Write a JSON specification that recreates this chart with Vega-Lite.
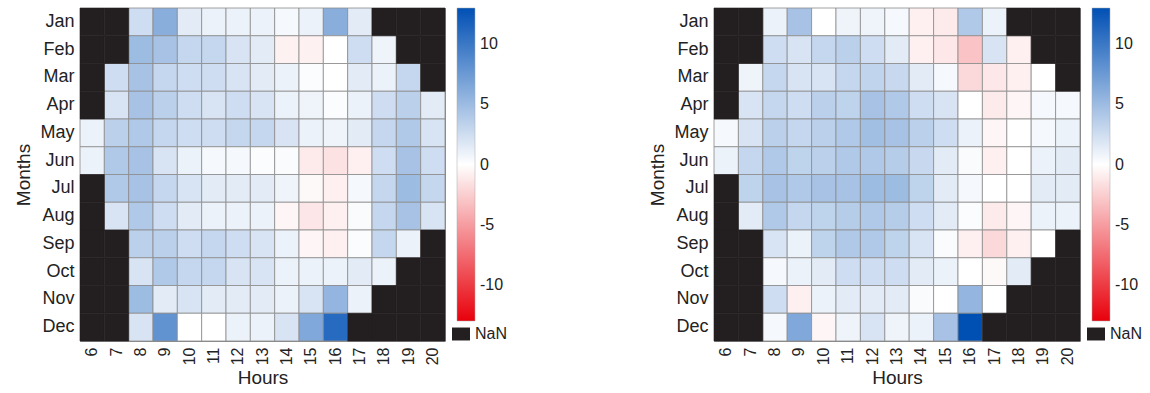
{
"$schema":"https://vega.github.io/schema/vega-lite/v6.json",
"padding":{"left":14,"top":7,"right":5,"bottom":5},
"background":"white",
"config":{
 "view":{"stroke":"#8c8c8c","strokeWidth":1},
 "font":"Liberation Sans",
 "axis":{"labelFont":"Liberation Sans","titleFont":"Liberation Sans","labelColor":"#222","titleColor":"#222","titleFontWeight":"normal","domain":false,"ticks":false,"grid":false},
 "legend":{"labelFont":"Liberation Sans","labelColor":"#222"}
},
"datasets":{
"left":[
{"month":"Jan","hour":6,"value":null},{"month":"Jan","hour":7,"value":null},{"month":"Jan","hour":8,"value":2.5},{"month":"Jan","hour":9,"value":6},{"month":"Jan","hour":10,"value":1.5},{"month":"Jan","hour":11,"value":1},{"month":"Jan","hour":12,"value":1},{"month":"Jan","hour":13,"value":1},{"month":"Jan","hour":14,"value":0.5},{"month":"Jan","hour":15,"value":1},{"month":"Jan","hour":16,"value":6},{"month":"Jan","hour":17,"value":1.5},{"month":"Jan","hour":18,"value":null},{"month":"Jan","hour":19,"value":null},{"month":"Jan","hour":20,"value":null},
{"month":"Feb","hour":6,"value":null},{"month":"Feb","hour":7,"value":null},{"month":"Feb","hour":8,"value":5},{"month":"Feb","hour":9,"value":4.5},{"month":"Feb","hour":10,"value":3},{"month":"Feb","hour":11,"value":3},{"month":"Feb","hour":12,"value":2},{"month":"Feb","hour":13,"value":1.5},{"month":"Feb","hour":14,"value":-0.7},{"month":"Feb","hour":15,"value":-0.7},{"month":"Feb","hour":16,"value":0},{"month":"Feb","hour":17,"value":2.5},{"month":"Feb","hour":18,"value":0.8},{"month":"Feb","hour":19,"value":null},{"month":"Feb","hour":20,"value":null},
{"month":"Mar","hour":6,"value":null},{"month":"Mar","hour":7,"value":2.5},{"month":"Mar","hour":8,"value":4.5},{"month":"Mar","hour":9,"value":3},{"month":"Mar","hour":10,"value":2.5},{"month":"Mar","hour":11,"value":2.5},{"month":"Mar","hour":12,"value":2},{"month":"Mar","hour":13,"value":1.5},{"month":"Mar","hour":14,"value":1},{"month":"Mar","hour":15,"value":0.2},{"month":"Mar","hour":16,"value":0},{"month":"Mar","hour":17,"value":1.5},{"month":"Mar","hour":18,"value":1},{"month":"Mar","hour":19,"value":3},{"month":"Mar","hour":20,"value":null},
{"month":"Apr","hour":6,"value":null},{"month":"Apr","hour":7,"value":2},{"month":"Apr","hour":8,"value":4.5},{"month":"Apr","hour":9,"value":3.5},{"month":"Apr","hour":10,"value":2.5},{"month":"Apr","hour":11,"value":2},{"month":"Apr","hour":12,"value":2.5},{"month":"Apr","hour":13,"value":2},{"month":"Apr","hour":14,"value":1},{"month":"Apr","hour":15,"value":0.8},{"month":"Apr","hour":16,"value":0.2},{"month":"Apr","hour":17,"value":1},{"month":"Apr","hour":18,"value":2.5},{"month":"Apr","hour":19,"value":3.5},{"month":"Apr","hour":20,"value":1.5},
{"month":"May","hour":6,"value":1},{"month":"May","hour":7,"value":3.5},{"month":"May","hour":8,"value":4},{"month":"May","hour":9,"value":3},{"month":"May","hour":10,"value":2.5},{"month":"May","hour":11,"value":2.5},{"month":"May","hour":12,"value":3},{"month":"May","hour":13,"value":3},{"month":"May","hour":14,"value":2},{"month":"May","hour":15,"value":1},{"month":"May","hour":16,"value":0.8},{"month":"May","hour":17,"value":1.5},{"month":"May","hour":18,"value":3},{"month":"May","hour":19,"value":4},{"month":"May","hour":20,"value":2},
{"month":"Jun","hour":6,"value":1},{"month":"Jun","hour":7,"value":4},{"month":"Jun","hour":8,"value":4.5},{"month":"Jun","hour":9,"value":2},{"month":"Jun","hour":10,"value":1},{"month":"Jun","hour":11,"value":0.5},{"month":"Jun","hour":12,"value":0.5},{"month":"Jun","hour":13,"value":0.2},{"month":"Jun","hour":14,"value":0.3},{"month":"Jun","hour":15,"value":-1},{"month":"Jun","hour":16,"value":-1.5},{"month":"Jun","hour":17,"value":-0.8},{"month":"Jun","hour":18,"value":2.5},{"month":"Jun","hour":19,"value":4.5},{"month":"Jun","hour":20,"value":2.5},
{"month":"Jul","hour":6,"value":null},{"month":"Jul","hour":7,"value":4},{"month":"Jul","hour":8,"value":4.5},{"month":"Jul","hour":9,"value":3},{"month":"Jul","hour":10,"value":2},{"month":"Jul","hour":11,"value":1.5},{"month":"Jul","hour":12,"value":1.5},{"month":"Jul","hour":13,"value":1.5},{"month":"Jul","hour":14,"value":0.8},{"month":"Jul","hour":15,"value":-0.3},{"month":"Jul","hour":16,"value":-0.8},{"month":"Jul","hour":17,"value":0.5},{"month":"Jul","hour":18,"value":3},{"month":"Jul","hour":19,"value":5},{"month":"Jul","hour":20,"value":3},
{"month":"Aug","hour":6,"value":null},{"month":"Aug","hour":7,"value":2},{"month":"Aug","hour":8,"value":4},{"month":"Aug","hour":9,"value":2.5},{"month":"Aug","hour":10,"value":1.5},{"month":"Aug","hour":11,"value":1},{"month":"Aug","hour":12,"value":1},{"month":"Aug","hour":13,"value":1},{"month":"Aug","hour":14,"value":-0.5},{"month":"Aug","hour":15,"value":-1.3},{"month":"Aug","hour":16,"value":-0.8},{"month":"Aug","hour":17,"value":0.3},{"month":"Aug","hour":18,"value":3},{"month":"Aug","hour":19,"value":4.5},{"month":"Aug","hour":20,"value":2},
{"month":"Sep","hour":6,"value":null},{"month":"Sep","hour":7,"value":null},{"month":"Sep","hour":8,"value":3.5},{"month":"Sep","hour":9,"value":3.5},{"month":"Sep","hour":10,"value":2.5},{"month":"Sep","hour":11,"value":3},{"month":"Sep","hour":12,"value":2.5},{"month":"Sep","hour":13,"value":2},{"month":"Sep","hour":14,"value":1},{"month":"Sep","hour":15,"value":-0.5},{"month":"Sep","hour":16,"value":-0.8},{"month":"Sep","hour":17,"value":0.2},{"month":"Sep","hour":18,"value":3},{"month":"Sep","hour":19,"value":1},{"month":"Sep","hour":20,"value":null},
{"month":"Oct","hour":6,"value":null},{"month":"Oct","hour":7,"value":null},{"month":"Oct","hour":8,"value":2},{"month":"Oct","hour":9,"value":4},{"month":"Oct","hour":10,"value":3},{"month":"Oct","hour":11,"value":3},{"month":"Oct","hour":12,"value":2},{"month":"Oct","hour":13,"value":2},{"month":"Oct","hour":14,"value":1},{"month":"Oct","hour":15,"value":1},{"month":"Oct","hour":16,"value":1},{"month":"Oct","hour":17,"value":1.5},{"month":"Oct","hour":18,"value":1},{"month":"Oct","hour":19,"value":null},{"month":"Oct","hour":20,"value":null},
{"month":"Nov","hour":6,"value":null},{"month":"Nov","hour":7,"value":null},{"month":"Nov","hour":8,"value":5},{"month":"Nov","hour":9,"value":1.5},{"month":"Nov","hour":10,"value":2},{"month":"Nov","hour":11,"value":1.5},{"month":"Nov","hour":12,"value":1.5},{"month":"Nov","hour":13,"value":1.5},{"month":"Nov","hour":14,"value":1},{"month":"Nov","hour":15,"value":2},{"month":"Nov","hour":16,"value":5.5},{"month":"Nov","hour":17,"value":1},{"month":"Nov","hour":18,"value":null},{"month":"Nov","hour":19,"value":null},{"month":"Nov","hour":20,"value":null},
{"month":"Dec","hour":6,"value":null},{"month":"Dec","hour":7,"value":null},{"month":"Dec","hour":8,"value":2},{"month":"Dec","hour":9,"value":8},{"month":"Dec","hour":10,"value":0},{"month":"Dec","hour":11,"value":0},{"month":"Dec","hour":12,"value":1},{"month":"Dec","hour":13,"value":1},{"month":"Dec","hour":14,"value":2},{"month":"Dec","hour":15,"value":6.5},{"month":"Dec","hour":16,"value":11},{"month":"Dec","hour":17,"value":null},{"month":"Dec","hour":18,"value":null},{"month":"Dec","hour":19,"value":null},{"month":"Dec","hour":20,"value":null}
],
"right":[
{"month":"Jan","hour":6,"value":null},{"month":"Jan","hour":7,"value":null},{"month":"Jan","hour":8,"value":1},{"month":"Jan","hour":9,"value":4.5},{"month":"Jan","hour":10,"value":0},{"month":"Jan","hour":11,"value":0.8},{"month":"Jan","hour":12,"value":0.8},{"month":"Jan","hour":13,"value":0.5},{"month":"Jan","hour":14,"value":-0.8},{"month":"Jan","hour":15,"value":-1},{"month":"Jan","hour":16,"value":4},{"month":"Jan","hour":17,"value":1},{"month":"Jan","hour":18,"value":null},{"month":"Jan","hour":19,"value":null},{"month":"Jan","hour":20,"value":null},
{"month":"Feb","hour":6,"value":null},{"month":"Feb","hour":7,"value":null},{"month":"Feb","hour":8,"value":2.5},{"month":"Feb","hour":9,"value":2},{"month":"Feb","hour":10,"value":3},{"month":"Feb","hour":11,"value":3.5},{"month":"Feb","hour":12,"value":2.5},{"month":"Feb","hour":13,"value":1.5},{"month":"Feb","hour":14,"value":-0.8},{"month":"Feb","hour":15,"value":-1.2},{"month":"Feb","hour":16,"value":-3},{"month":"Feb","hour":17,"value":2},{"month":"Feb","hour":18,"value":-0.8},{"month":"Feb","hour":19,"value":null},{"month":"Feb","hour":20,"value":null},
{"month":"Mar","hour":6,"value":null},{"month":"Mar","hour":7,"value":0.8},{"month":"Mar","hour":8,"value":3},{"month":"Mar","hour":9,"value":2},{"month":"Mar","hour":10,"value":2},{"month":"Mar","hour":11,"value":3},{"month":"Mar","hour":12,"value":3.2},{"month":"Mar","hour":13,"value":2.8},{"month":"Mar","hour":14,"value":1.5},{"month":"Mar","hour":15,"value":0.5},{"month":"Mar","hour":16,"value":-2},{"month":"Mar","hour":17,"value":-1.2},{"month":"Mar","hour":18,"value":-0.8},{"month":"Mar","hour":19,"value":0},{"month":"Mar","hour":20,"value":null},
{"month":"Apr","hour":6,"value":null},{"month":"Apr","hour":7,"value":2},{"month":"Apr","hour":8,"value":3},{"month":"Apr","hour":9,"value":2.5},{"month":"Apr","hour":10,"value":3.5},{"month":"Apr","hour":11,"value":3.3},{"month":"Apr","hour":12,"value":4.5},{"month":"Apr","hour":13,"value":4},{"month":"Apr","hour":14,"value":2.5},{"month":"Apr","hour":15,"value":2},{"month":"Apr","hour":16,"value":0},{"month":"Apr","hour":17,"value":-1},{"month":"Apr","hour":18,"value":-0.5},{"month":"Apr","hour":19,"value":0.5},{"month":"Apr","hour":20,"value":0.5},
{"month":"May","hour":6,"value":0.5},{"month":"May","hour":7,"value":2},{"month":"May","hour":8,"value":3.5},{"month":"May","hour":9,"value":3},{"month":"May","hour":10,"value":3.5},{"month":"May","hour":11,"value":4},{"month":"May","hour":12,"value":4.8},{"month":"May","hour":13,"value":4.5},{"month":"May","hour":14,"value":3.5},{"month":"May","hour":15,"value":2.5},{"month":"May","hour":16,"value":1},{"month":"May","hour":17,"value":-0.5},{"month":"May","hour":18,"value":0},{"month":"May","hour":19,"value":0.5},{"month":"May","hour":20,"value":1},
{"month":"Jun","hour":6,"value":1},{"month":"Jun","hour":7,"value":3},{"month":"Jun","hour":8,"value":4},{"month":"Jun","hour":9,"value":3.3},{"month":"Jun","hour":10,"value":3.5},{"month":"Jun","hour":11,"value":4},{"month":"Jun","hour":12,"value":4},{"month":"Jun","hour":13,"value":3.7},{"month":"Jun","hour":14,"value":2.8},{"month":"Jun","hour":15,"value":1.5},{"month":"Jun","hour":16,"value":0.3},{"month":"Jun","hour":17,"value":-0.8},{"month":"Jun","hour":18,"value":0},{"month":"Jun","hour":19,"value":1},{"month":"Jun","hour":20,"value":1.5},
{"month":"Jul","hour":6,"value":null},{"month":"Jul","hour":7,"value":3.3},{"month":"Jul","hour":8,"value":4.5},{"month":"Jul","hour":9,"value":4},{"month":"Jul","hour":10,"value":4.5},{"month":"Jul","hour":11,"value":4.5},{"month":"Jul","hour":12,"value":5},{"month":"Jul","hour":13,"value":5},{"month":"Jul","hour":14,"value":3.3},{"month":"Jul","hour":15,"value":1.5},{"month":"Jul","hour":16,"value":0.5},{"month":"Jul","hour":17,"value":0},{"month":"Jul","hour":18,"value":0},{"month":"Jul","hour":19,"value":1.5},{"month":"Jul","hour":20,"value":1.5},
{"month":"Aug","hour":6,"value":null},{"month":"Aug","hour":7,"value":1.5},{"month":"Aug","hour":8,"value":4},{"month":"Aug","hour":9,"value":3},{"month":"Aug","hour":10,"value":3.3},{"month":"Aug","hour":11,"value":3.7},{"month":"Aug","hour":12,"value":4},{"month":"Aug","hour":13,"value":3.7},{"month":"Aug","hour":14,"value":2.5},{"month":"Aug","hour":15,"value":1.5},{"month":"Aug","hour":16,"value":0.2},{"month":"Aug","hour":17,"value":-1},{"month":"Aug","hour":18,"value":-0.5},{"month":"Aug","hour":19,"value":1},{"month":"Aug","hour":20,"value":1},
{"month":"Sep","hour":6,"value":null},{"month":"Sep","hour":7,"value":null},{"month":"Sep","hour":8,"value":2},{"month":"Sep","hour":9,"value":1},{"month":"Sep","hour":10,"value":3.3},{"month":"Sep","hour":11,"value":4},{"month":"Sep","hour":12,"value":4},{"month":"Sep","hour":13,"value":3.3},{"month":"Sep","hour":14,"value":2},{"month":"Sep","hour":15,"value":0.3},{"month":"Sep","hour":16,"value":-0.8},{"month":"Sep","hour":17,"value":-2},{"month":"Sep","hour":18,"value":-0.8},{"month":"Sep","hour":19,"value":0},{"month":"Sep","hour":20,"value":null},
{"month":"Oct","hour":6,"value":null},{"month":"Oct","hour":7,"value":null},{"month":"Oct","hour":8,"value":0.5},{"month":"Oct","hour":9,"value":1},{"month":"Oct","hour":10,"value":1.5},{"month":"Oct","hour":11,"value":2.5},{"month":"Oct","hour":12,"value":2.5},{"month":"Oct","hour":13,"value":2.5},{"month":"Oct","hour":14,"value":1.5},{"month":"Oct","hour":15,"value":1},{"month":"Oct","hour":16,"value":0},{"month":"Oct","hour":17,"value":-0.3},{"month":"Oct","hour":18,"value":1.5},{"month":"Oct","hour":19,"value":null},{"month":"Oct","hour":20,"value":null},
{"month":"Nov","hour":6,"value":null},{"month":"Nov","hour":7,"value":null},{"month":"Nov","hour":8,"value":2.5},{"month":"Nov","hour":9,"value":-0.8},{"month":"Nov","hour":10,"value":1},{"month":"Nov","hour":11,"value":1.5},{"month":"Nov","hour":12,"value":1.5},{"month":"Nov","hour":13,"value":1.5},{"month":"Nov","hour":14,"value":0.3},{"month":"Nov","hour":15,"value":0},{"month":"Nov","hour":16,"value":5.5},{"month":"Nov","hour":17,"value":0},{"month":"Nov","hour":18,"value":null},{"month":"Nov","hour":19,"value":null},{"month":"Nov","hour":20,"value":null},
{"month":"Dec","hour":6,"value":null},{"month":"Dec","hour":7,"value":null},{"month":"Dec","hour":8,"value":0.5},{"month":"Dec","hour":9,"value":6.5},{"month":"Dec","hour":10,"value":-0.5},{"month":"Dec","hour":11,"value":0.8},{"month":"Dec","hour":12,"value":2},{"month":"Dec","hour":13,"value":0.8},{"month":"Dec","hour":14,"value":1},{"month":"Dec","hour":15,"value":4.5},{"month":"Dec","hour":16,"value":13},{"month":"Dec","hour":17,"value":null},{"month":"Dec","hour":18,"value":null},{"month":"Dec","hour":19,"value":null},{"month":"Dec","hour":20,"value":null}
]
},
"spacing":143,
"hconcat":[
{
 "width":365,"height":333,
 "data":{"name":"left"},
 "layer":[
  {"transform":[{"filter":{"field":"value","valid":true}}],
   "mark":{"type":"rect","stroke":"#8c8c8c","strokeWidth":0.8},
   "encoding":{
    "x":{"field":"hour","type":"ordinal","title":"Hours","scale":{"domain":[6,7,8,9,10,11,12,13,14,15,16,17,18,19,20]},"axis":{"labelAngle":-90,"labelFontSize":16,"titleFontSize":19,"labelPadding":6,"titlePadding":4}},
    "y":{"field":"month","type":"nominal","title":"Months","scale":{"domain":["Jan","Feb","Mar","Apr","May","Jun","Jul","Aug","Sep","Oct","Nov","Dec"]},"axis":{"labelFontSize":18,"titleFontSize":19,"labelPadding":6,"titlePadding":6}},
    "color":{"field":"value","type":"quantitative","scale":{"domain":[-13,0,13],"range":["#e8000b","#ffffff","#0050b4"],"interpolate":"rgb"},
      "legend":{"title":null,"orient":"right","direction":"vertical","gradientLength":313,"gradientThickness":18,"values":[-10,-5,0,5,10],"labelExpr":"'' + datum.value","labelFontSize":16,"offset":7,"gradientStrokeColor":"#aaaaaa","gradientStrokeWidth":0.5,"labelOffset":5}}
   }},
  {"transform":[{"filter":{"field":"value","valid":false}}],
   "mark":{"type":"rect","stroke":"#231f20","strokeWidth":0.6},
   "encoding":{
    "x":{"field":"hour","type":"ordinal"},
    "y":{"field":"month","type":"nominal"},
    "fill":{"datum":"NaN","type":"nominal","scale":{"range":["#231f20"]},
      "legend":{"title":null,"orient":"right","symbolType":"M-1,-0.72H1V0.72H-1Z","symbolSize":324,"symbolStrokeWidth":0,"labelFontSize":16,"offset":12,"padding":-5,"labelOffset":5}}
   }}
 ],
 "resolve":{"scale":{"color":"independent","fill":"independent"}}
},
{
 "width":366,"height":333,
 "data":{"name":"right"},
 "layer":[
  {"transform":[{"filter":{"field":"value","valid":true}}],
   "mark":{"type":"rect","stroke":"#8c8c8c","strokeWidth":0.8},
   "encoding":{
    "x":{"field":"hour","type":"ordinal","title":"Hours","scale":{"domain":[6,7,8,9,10,11,12,13,14,15,16,17,18,19,20]},"axis":{"labelAngle":-90,"labelFontSize":16,"titleFontSize":19,"labelPadding":6,"titlePadding":4}},
    "y":{"field":"month","type":"nominal","title":"Months","scale":{"domain":["Jan","Feb","Mar","Apr","May","Jun","Jul","Aug","Sep","Oct","Nov","Dec"]},"axis":{"labelFontSize":18,"titleFontSize":19,"labelPadding":6,"titlePadding":6}},
    "color":{"field":"value","type":"quantitative","scale":{"domain":[-13,0,13],"range":["#e8000b","#ffffff","#0050b4"],"interpolate":"rgb"},
      "legend":{"title":null,"orient":"right","direction":"vertical","gradientLength":313,"gradientThickness":18,"values":[-10,-5,0,5,10],"labelExpr":"'' + datum.value","labelFontSize":16,"offset":7,"gradientStrokeColor":"#aaaaaa","gradientStrokeWidth":0.5,"labelOffset":5}}
   }},
  {"transform":[{"filter":{"field":"value","valid":false}}],
   "mark":{"type":"rect","stroke":"#231f20","strokeWidth":0.6},
   "encoding":{
    "x":{"field":"hour","type":"ordinal"},
    "y":{"field":"month","type":"nominal"},
    "fill":{"datum":"NaN","type":"nominal","scale":{"range":["#231f20"]},
      "legend":{"title":null,"orient":"right","symbolType":"M-1,-0.72H1V0.72H-1Z","symbolSize":324,"symbolStrokeWidth":0,"labelFontSize":16,"offset":12,"padding":-5,"labelOffset":5}}
   }}
 ],
 "resolve":{"scale":{"color":"independent","fill":"independent"}}
}
],
"resolve":{"scale":{"color":"independent","fill":"independent"},"legend":{"color":"independent","fill":"independent"}}
}
